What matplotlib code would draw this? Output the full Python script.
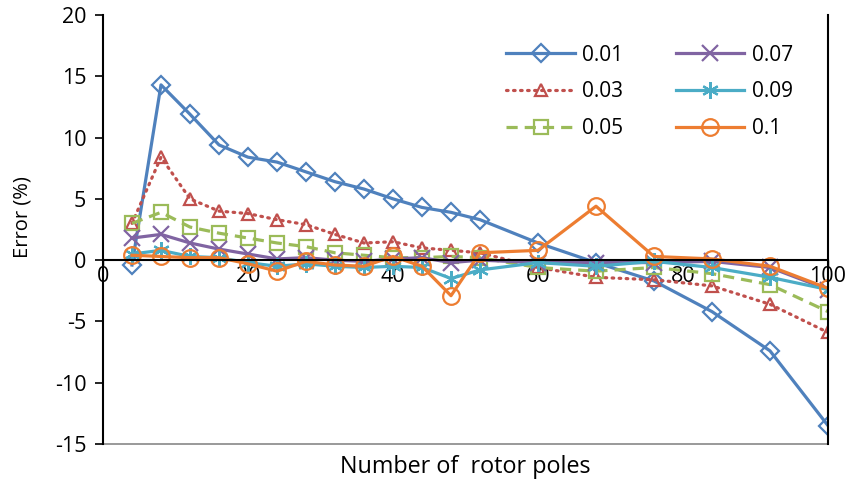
import numpy as np
import matplotlib
matplotlib.use('Agg')
import matplotlib.pyplot as plt

plt.rcParams['font.family'] = ['Open Sans', 'DejaVu Sans']
plt.rcParams['axes.unicode_minus'] = False

poles = [4, 8, 12, 16, 20, 24, 28, 32, 36, 40, 44, 48, 52, 60, 68, 76, 84, 92, 100]

err_001 = [-0.4, 14.3, 11.9, 9.4, 8.4, 8.0, 7.2, 6.4, 5.8, 5.0, 4.3, 3.9, 3.3, 1.4, -0.2, -1.7, -4.2, -7.4, -13.5]
err_003 = [3.0, 8.4, 5.0, 4.0, 3.8, 3.3, 2.9, 2.1, 1.4, 1.5, 1.0, 0.8, 0.6, -0.6, -1.4, -1.6, -2.1, -3.6, -5.9]
err_005 = [3.0, 3.9, 2.7, 2.2, 1.8, 1.4, 1.1, 0.6, 0.4, 0.2, 0.2, 0.3, 0.2, -0.6, -0.9, -0.6, -1.1, -2.0, -4.2]
err_007 = [1.8, 2.1, 1.4, 0.9, 0.5, 0.1, 0.2, 0.0, -0.1, 0.1, 0.2, -0.2, 0.0, -0.2, -0.2, -0.2, -0.1, -0.6, -2.4]
err_009 = [0.5, 0.8, 0.3, 0.2, -0.2, -0.5, -0.3, -0.5, -0.6, -0.5, -0.6, -1.5, -0.8, -0.2, -0.5, -0.1, -0.6, -1.4, -2.4]
err_01 = [0.4, 0.3, 0.2, 0.2, -0.3, -0.9, -0.1, -0.4, -0.5, 0.3, -0.5, -2.9, 0.6, 0.8, 4.4, 0.3, 0.1, -0.5, -2.3]

series = [
    ('0.01', err_001, '#4F81BD', '-', 'D', 9.5),
    ('0.03', err_003, '#C0504D', ':', '^', 9),
    ('0.05', err_005, '#9BBB59', '--', 's', 9.5),
    ('0.07', err_007, '#8064A2', '-', 'x', 11),
    ('0.09', err_009, '#4BACC6', '-', (6, 2, 0), 12),
    ('0.1', err_01, '#ED7D31', '-', 'o', 12),
]

fig = plt.figure(figsize=(8.48, 4.83), dpi=100)
ax = fig.add_axes([103 / 848, 1 - 444 / 483, 725 / 848, 429 / 483])

for label, vals, color, ls, mk, ms in series:
    kw = dict(color=color, linewidth=2.3, marker=mk, markersize=ms,
              markerfacecolor='none', markeredgecolor=color, markeredgewidth=1.6,
              label=label)
    if ls == '--':
        kw['dashes'] = (3.5, 2.2)
    elif ls == ':':
        kw['dashes'] = (0.5, 1.7)
        kw['dash_capstyle'] = 'round'
    ax.plot(poles, vals, linestyle=ls, **kw)

ax.set_xlim(0, 100)
ax.set_ylim(-15, 20)
ax.set_xticks(np.arange(0, 101, 20))
ax.set_yticks(np.arange(-15, 21, 5))

ax.spines['bottom'].set_position(('data', 0))
ax.spines['top'].set_visible(False)
ax.spines['left'].set_linewidth(1.5)
ax.spines['bottom'].set_linewidth(1.5)
ax.spines['right'].set_linewidth(1.5)
ax.plot([0, 1], [0, 0], transform=ax.transAxes, color='#888888', linewidth=1.2, clip_on=False)

ax.tick_params(axis='y', direction='out', length=6, width=1.2, labelsize=15.5, pad=6)
ax.tick_params(axis='x', direction='out', length=4, width=1.0, labelsize=15.5, pad=0)
for t in ax.get_xticklabels():
    t.set_zorder(0)

ax.set_ylabel('Error (%)', fontsize=14.5)
ax.yaxis.set_label_coords(-0.097, 0.53)
ax.set_xlabel('Number of  rotor poles', fontsize=16.8)
ax.xaxis.set_label_coords(0.5, -0.025)

ax.legend(ncol=2, loc='upper left', bbox_to_anchor=(0.542, 0.955), frameon=False,
          fontsize=15, handlelength=3.3, handletextpad=0.35, columnspacing=2.5,
          labelspacing=0.75, borderpad=0)

fig.savefig('out.png', dpi=100)
